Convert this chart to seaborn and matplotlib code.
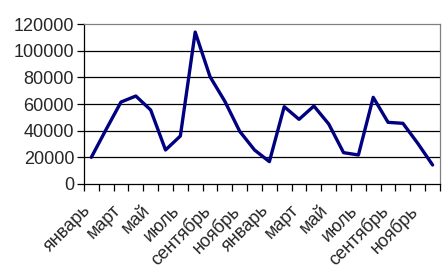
import matplotlib
matplotlib.use("Agg")
import matplotlib.pyplot as plt
import matplotlib.transforms as mtransforms
import seaborn as sns
import pandas as pd
import numpy as np

months = ["январь", "февраль", "март", "апрель", "май", "июнь", "июль", "август",
          "сентябрь", "октябрь", "ноябрь", "декабрь"] * 2
values = [20000, 41000, 61500, 66000, 55500, 25500, 36000, 114000, 80500, 62000, 39500, 25500,
          16750, 58000, 48500, 58500, 45000, 23500, 21750, 65000, 46250, 45500, 30500, 14250]
y_ticks = [0, 20000, 40000, 60000, 80000, 100000, 120000]

sns.set_theme(style="white")
plt.rcParams['font.family'] = ['Liberation Sans', 'DejaVu Sans']

df = pd.DataFrame({"idx": np.arange(len(values)), "value": values})

fig = plt.figure(figsize=(4.44, 2.8), dpi=100)
ax = fig.add_axes([0.189, 0.343, 0.802, 0.571])
sns.lineplot(data=df, x="idx", y="value", ax=ax, color="#000080", linewidth=2.4)

ax.set_xlim(-0.5, len(values) - 0.5)
ax.set_ylim(0, 120000)
ax.set_yticks(y_ticks)
ax.set_yticklabels([str(v) for v in y_ticks], fontsize=13)
for v in y_ticks[1:-1]:
    ax.axhline(v, color="black", linewidth=0.9, zorder=0)

ax.set_xticks(np.arange(-0.5, len(values), 1.0))
ax.set_xticklabels([])
ax.set_xticks(np.arange(0, len(values), 2), minor=True)
ax.set_xticklabels([months[i] for i in range(0, len(values), 2)], minor=True,
                   rotation=45, ha="right", va="top", rotation_mode="anchor", fontsize=13)
ax.tick_params(axis="x", which="major", direction="out", length=5, width=0.9, color="black", bottom=True)
ax.tick_params(axis="x", which="minor", length=0, pad=10)
ax.tick_params(axis="y", direction="out", length=5, width=0.9, color="black", left=True, pad=2)

offset = mtransforms.ScaledTranslation(-0.09, -0.04, fig.dpi_scale_trans)
for lbl in ax.xaxis.get_minorticklabels():
    lbl.set_transform(lbl.get_transform() + offset)

ax.set_xlabel("")
ax.set_ylabel("")
for s in ["left", "bottom"]:
    ax.spines[s].set_color("black")
    ax.spines[s].set_linewidth(0.9)
for s in ["top", "right"]:
    ax.spines[s].set_color("#808080")
    ax.spines[s].set_linewidth(0.9)

fig.savefig("out.png", dpi=100)
